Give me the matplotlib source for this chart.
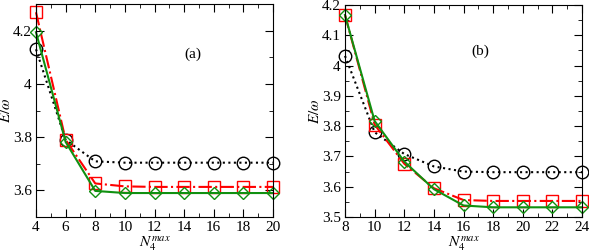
import matplotlib

matplotlib.use("Agg")
import matplotlib.pyplot as plt
from matplotlib.ticker import MultipleLocator

plt.rcParams["font.family"] = ["Liberation Serif", "DejaVu Serif"]
plt.rcParams["mathtext.fontset"] = "stix"

# panel (a)
n_a = [4, 6, 8, 10, 12, 14, 16, 18, 20]
black_a = [4.13, 3.79, 3.709, 3.704, 3.704, 3.704, 3.704, 3.704, 3.704]
red_a = [4.269, 3.79, 3.626, 3.615, 3.613, 3.613, 3.613, 3.613, 3.613]
green_a = [4.194, 3.782, 3.598, 3.59, 3.59, 3.59, 3.59, 3.59, 3.59]

# panel (b)
n_b = [8, 10, 12, 14, 16, 18, 20, 22, 24]
black_b = [4.032, 3.78, 3.708, 3.667, 3.65, 3.648, 3.648, 3.648, 3.648]
red_b = [4.167, 3.805, 3.676, 3.595, 3.556, 3.553, 3.553, 3.553, 3.553]
green_b = [4.167, 3.817, 3.683, 3.592, 3.538, 3.532, 3.532, 3.532, 3.532]

yticks_a = [3.6, 3.8, 4.0, 4.2]
ylabels_a = ["3.6", "3.8", "4", "4.2"]
yticks_b = [3.5, 3.6, 3.7, 3.8, 3.9, 4.0, 4.1, 4.2]
ylabels_b = ["3.5", "3.6", "3.7", "3.8", "3.9", "4", "4.1", "4.2"]


def draw_panel(ax, n, black, red, green, label):
    ax.plot(n, black, color="black", linestyle=":", linewidth=1.5, marker="o",
            markersize=9, markerfacecolor="none", markeredgewidth=1.0, clip_on=False)
    ax.plot(n, red, color="red", linestyle="-.", linewidth=1.5, marker="s",
            markersize=8.5, markerfacecolor="none", markeredgewidth=1.0, clip_on=False)
    ax.plot(n, green, color="#109010", linestyle="-", linewidth=1.5, marker="D",
            markersize=6.5, markerfacecolor="none", markeredgewidth=1.0, clip_on=False)
    ax.xaxis.set_major_locator(MultipleLocator(2))
    ax.xaxis.set_minor_locator(MultipleLocator(1))
    ax.tick_params(which="both", direction="in", top=True, right=True, labelsize=11)
    ax.tick_params(which="major", length=6, pad=3)
    ax.tick_params(which="minor", length=3)
    ax.set_xlabel(r"$N_4^{max}$", fontsize=11, labelpad=0)
    ax.set_ylabel(r"$E/\omega$", fontsize=11, labelpad=0)
    ax.text(label[1], label[2], label[0], transform=ax.transAxes, fontsize=11,
            ha="center", va="center")


fig = plt.figure(figsize=(5.89, 2.52), dpi=100)
ax1 = fig.add_axes([36 / 589, 35 / 252, 237 / 589, 213 / 252])
ax2 = fig.add_axes([345 / 589, 35 / 252, 237 / 589, 212 / 252])

draw_panel(ax1, n_a, black_a, red_a, green_a, ("(a)", 0.66, 0.765))
ax1.set_xlim(4, 20)
ax1.set_ylim(3.5, 4.3)
ax1.set_yticks(yticks_a)
ax1.set_yticklabels(ylabels_a)
ax1.yaxis.set_minor_locator(MultipleLocator(0.1))

draw_panel(ax2, n_b, black_b, red_b, green_b, ("(b)", 0.57, 0.78))
ax2.set_xlim(8, 24)
ax2.set_ylim(3.5, 4.2)
ax2.set_yticks(yticks_b)
ax2.set_yticklabels(ylabels_b)
ax2.yaxis.set_minor_locator(MultipleLocator(0.05))

fig.savefig("out.png", dpi=100)
